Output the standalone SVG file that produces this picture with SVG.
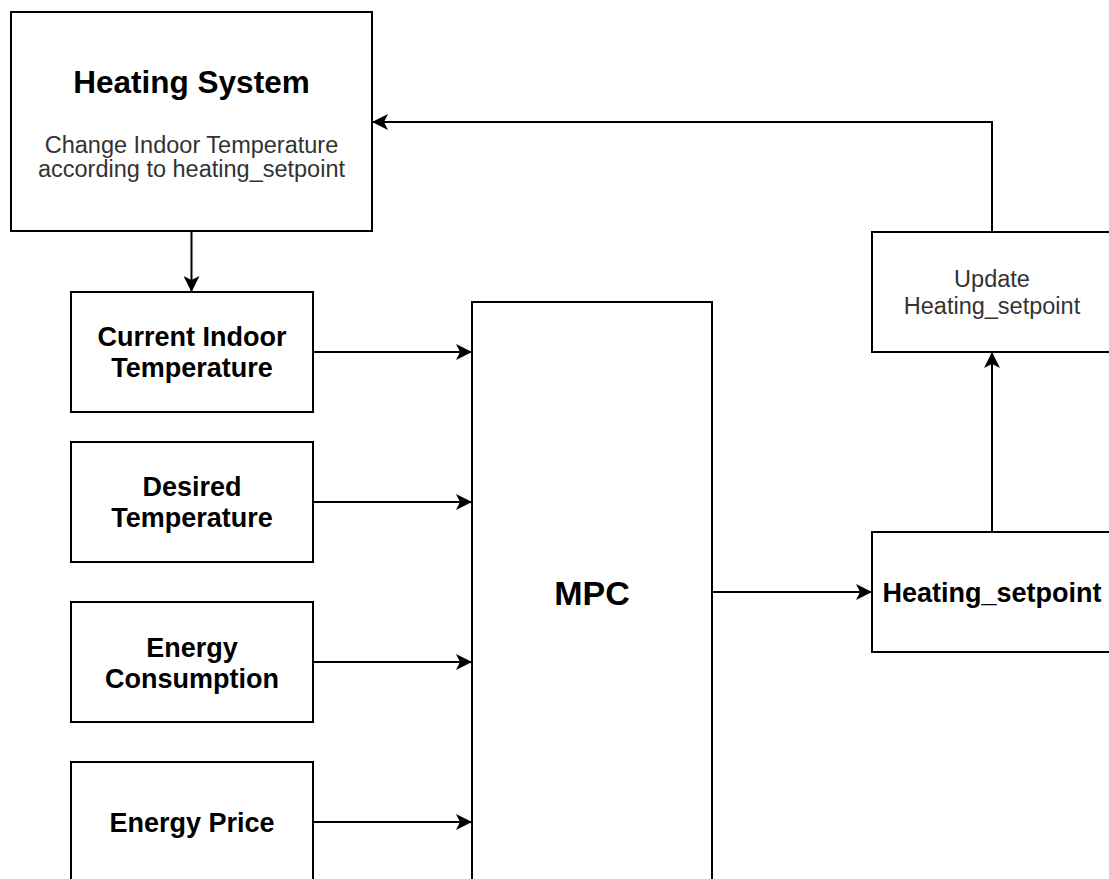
<svg xmlns="http://www.w3.org/2000/svg" width="1109" height="879" viewBox="0 0 1109 879">
<style>
.box{fill:#fff;stroke:#000;stroke-width:2}
.lbl{font-family:"Liberation Sans",Arial,Helvetica,sans-serif;font-weight:bold;font-size:27px;fill:#000;text-anchor:middle}
.sub{font-family:"Liberation Sans",Arial,Helvetica,sans-serif;font-size:23.5px;fill:#333;text-anchor:middle}
.edge{fill:none;stroke:#000;stroke-width:2}
</style>
<defs>
<marker id="arr" markerUnits="userSpaceOnUse" markerWidth="16" markerHeight="16" viewBox="0 0 14 14" refX="14" refY="7" orient="auto">
<path d="M0,0 L14,7 L0,14 L3.5,7 Z" fill="#000"/>
</marker>
</defs>
<rect width="1109" height="879" fill="#fff"/>
<g id="heating-system">
<rect class="box" x="11" y="12" width="361" height="219"/>
<text class="lbl" x="191.5" y="93" style="font-size:31.5px">Heating System</text>
<text class="sub" x="191.5" y="153">Change Indoor Temperature</text>
<text class="sub" x="191.5" y="177">according to heating_setpoint</text>
</g>
<g id="current-indoor">
<rect class="box" x="71" y="292" width="242" height="120"/>
<text class="lbl" x="192" y="346">Current Indoor</text>
<text class="lbl" x="192" y="377">Temperature</text>
</g>
<g id="desired">
<rect class="box" x="71" y="442" width="242" height="120"/>
<text class="lbl" x="192" y="496">Desired</text>
<text class="lbl" x="192" y="527">Temperature</text>
</g>
<g id="consumption">
<rect class="box" x="71" y="602" width="242" height="120"/>
<text class="lbl" x="192" y="657">Energy</text>
<text class="lbl" x="192" y="688">Consumption</text>
</g>
<g id="price">
<rect class="box" x="71" y="762" width="242" height="120"/>
<text class="lbl" x="192" y="832">Energy Price</text>
</g>
<g id="mpc">
<rect class="box" x="472" y="302" width="240" height="600"/>
<text class="lbl" x="592" y="605" style="font-size:34px">MPC</text>
</g>
<g id="heating-setpoint">
<rect class="box" x="872" y="532" width="240" height="120"/>
<text class="lbl" x="992" y="602">Heating_setpoint</text>
</g>
<g id="update">
<rect class="box" x="872" y="232" width="240" height="120"/>
<text class="sub" x="992" y="287">Update</text>
<text class="sub" x="992" y="314">Heating_setpoint</text>
</g>
<g id="connectors">
<path class="edge" d="M191.5,231 L191.5,292" marker-end="url(#arr)"/>
<path class="edge" d="M313,352 L472,352" marker-end="url(#arr)"/>
<path class="edge" d="M313,502 L472,502" marker-end="url(#arr)"/>
<path class="edge" d="M313,662 L472,662" marker-end="url(#arr)"/>
<path class="edge" d="M313,822 L472,822" marker-end="url(#arr)"/>
<path class="edge" d="M712,592 L872,592" marker-end="url(#arr)"/>
<path class="edge" d="M992,532 L992,352" marker-end="url(#arr)"/>
<path class="edge" d="M992,232 L992,122 L372,122" marker-end="url(#arr)"/>
</g>
</svg>
